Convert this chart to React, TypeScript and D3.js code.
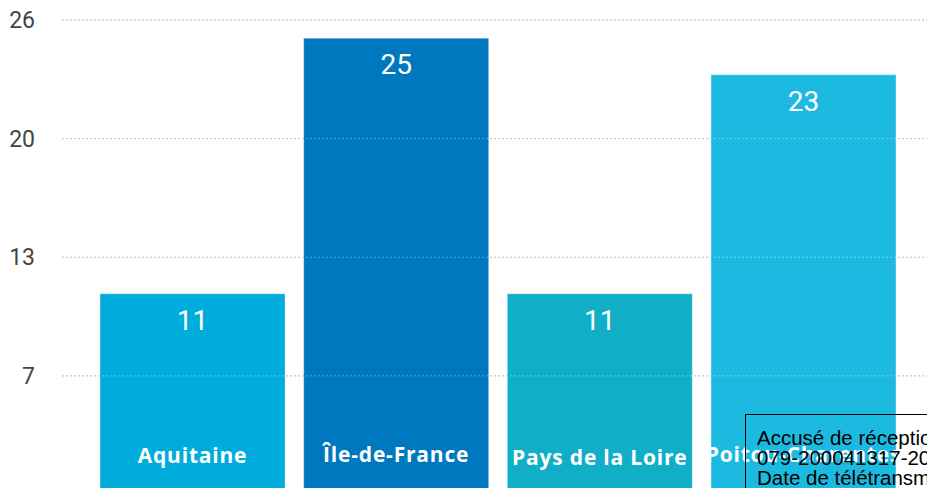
import React from "react";
import * as d3 from "d3";

const categories = ["Aquitaine", "Île-de-France", "Pays de la Loire", "Poitou-Charentes"];
const values = [11, 25, 11, 23];
const barColors = ["#00ACDC", "#0078C0", "#10AFC7", "#1CB9E0"];
const tickValues = [6.5, 13, 19.5, 26];
const stampLines = ["Accusé de réception en préfecture", "079-200041317-20", "Date de télétransmission"];
const labelBaselines = [463, 462, 465, 462];

const W = 927;
const H = 488;

export default function App() {
  const x = d3
    .scaleBand<string>()
    .domain(categories)
    .range([90.7, 905.3])
    .paddingInner(0.0917)
    .paddingOuter(0.0458);
  const y = d3.scaleLinear().domain([0, 26]).range([494.5, 20]);
  const gridX0 = 62;

  return (
    <svg
      width={W}
      height={H}
      style={{ position: "fixed", left: 0, top: 0, background: "#fff" }}
    >
      {tickValues.map((t) => (
        <g key={"g" + t}>
          <line x1={gridX0} x2={W} y1={y(t)} y2={y(t)} stroke="#a8a8a8" strokeDasharray="2,2" strokeWidth={1} />
          <text
            x={35}
            y={y(t)}
            dy="0.35em"
            textAnchor="end"
            fontFamily="Roboto, 'Noto Sans', sans-serif"
            fontSize={23}
            fill="#444"
          >
            {Math.round(t)}
          </text>
        </g>
      ))}
      {categories.map((c, i) => {
        const bx = x(c) as number;
        const bw = x.bandwidth();
        const top = y(values[i]);
        return (
          <g key={c}>
            <rect x={bx} y={top} width={bw} height={H - top + 10} fill={barColors[i]} stroke="rgba(255,255,255,0.35)" strokeWidth={1} />
          </g>
        );
      })}
      {tickValues.map((t) => (
        <line key={"o" + t} x1={gridX0} x2={W} y1={y(t)} y2={y(t)} stroke="rgba(255,255,255,0.35)" strokeDasharray="2,2" strokeWidth={1} />
      ))}
      {categories.map((c, i) => {
        const cx = (x(c) as number) + x.bandwidth() / 2;
        const top = y(values[i]);
        return (
          <g key={"l" + c}>
            <text
              x={cx}
              y={top + 36}
              textAnchor="middle"
              fontFamily="Roboto, 'Noto Sans', sans-serif"
              fontSize={28}
              fill="#fff"
            >
              {values[i]}
            </text>
            <text
              x={cx}
              y={labelBaselines[i]}
              textAnchor="middle"
              fontFamily="'Open Sans', 'Noto Sans', sans-serif"
              fontWeight="bold"
              fontSize={21}
              letterSpacing={0.8}
              fill="#fff"
            >
              {c}
            </text>
          </g>
        );
      })}
      <rect x={745.5} y={414.5} width={300} height={120} fill="none" stroke="#000" strokeWidth={1} />
      {stampLines.map((s, i) => (
        <text
          key={s}
          x={757}
          y={445 + i * 20}
          fontFamily="'Liberation Sans', Arial, sans-serif"
          fontSize={20.5}
          fill="#000"
        >
          {s}
        </text>
      ))}
    </svg>
  );
}
